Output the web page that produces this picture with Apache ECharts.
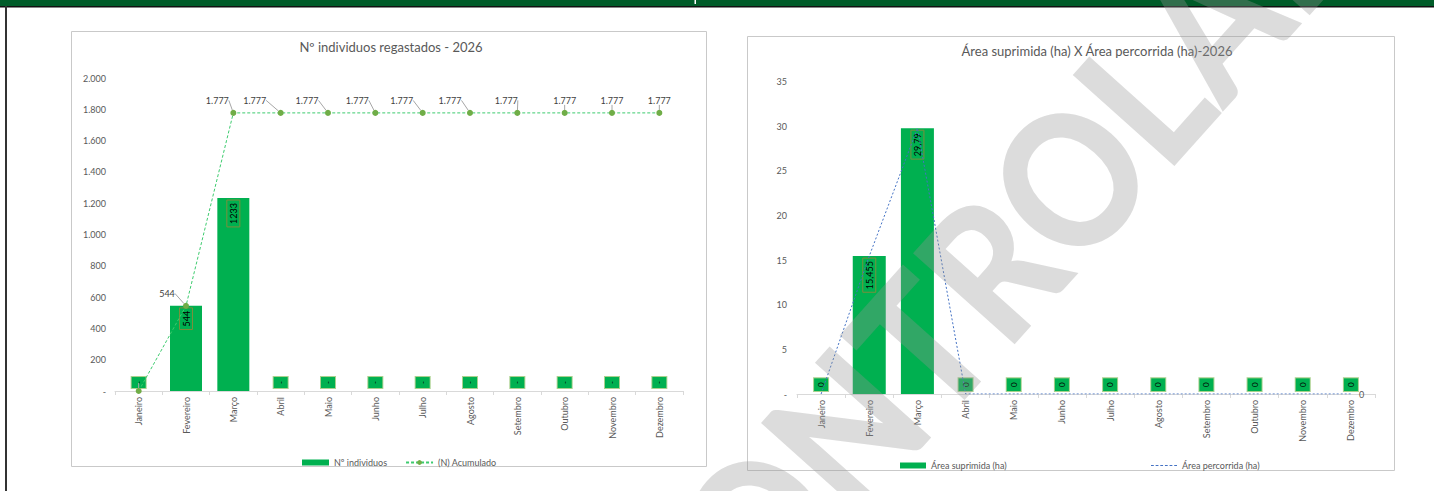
<!DOCTYPE html>
<html>
<head>
    <meta charset="utf-8">
    <title>Nº individuos / Área suprimida - 2026</title>
    <script src="https://cdn.jsdelivr.net/npm/echarts@6/dist/echarts.min.js"></script>
    <style>
        html, body { margin: 0; padding: 0; background: #fff; }
    </style>
</head>
<body>
<div id="main" style="width: 1434px;height:491px;"></div>
<script type="text/javascript">
// dados
var meses = ['Janeiro', 'Fevereiro', 'Março', 'Abril', 'Maio', 'Junho', 'Julho', 'Agosto', 'Setembro', 'Outubro', 'Novembro', 'Dezembro'];
var individuos = [0, 544, 1233, 0, 0, 0, 0, 0, 0, 0, 0, 0];
var acumulado = [0, 544, 1777, 1777, 1777, 1777, 1777, 1777, 1777, 1777, 1777, 1777];
var areaSuprimida = [0, 15.455, 29.79, 0, 0, 0, 0, 0, 0, 0, 0, 0];
var areaPercorrida = [0, 15.455, 29.79, 0, 0, 0, 0, 0, 0, 0, 0, 0];

var FONT = 'Lato';
var VERDE = '#00B050';
var CINZA = '#595959';

function milhar(v) {
    return String(v).replace(/\B(?=(\d{3})+(?!\d))/g, '.');
}

// deslocamento horizontal dos rótulos do acumulado (como no Excel)
var desloc = [0, -19, -16, -26, -21, -18, -21, -20, -11, 0, 0, 0];

// ícone tracejado da legenda (só a linha, sem marcador)
var TRACO = 'path://M0,0H3V1H0Z M5,0H8V1H5Z M10,0H13V1H10Z M15,0H18V1H15Z M20,0H23V1H20Z M25,0H28V1H25Z';

// rótulos das barras: valor zero vira caixinha verde acima do eixo
function barItems(vals, zeroTxt) {
    return vals.map(function (v) {
        if (v === 0) {
            return {
                value: v,
                label: {
                    show: true, position: 'top', distance: 3, rotate: 90,
                    align: 'left', verticalAlign: 'middle',
                    formatter: zeroTxt, fontSize: 8, lineHeight: 10, color: '#000',
                    backgroundColor: VERDE, borderColor: '#A9D18E', borderWidth: 1,
                    padding: [2, 4, 2, 4]
                }
            };
        }
        return {
            value: v,
            label: {
                show: true, position: 'insideTop', distance: 2, rotate: 90,
                align: 'right', verticalAlign: 'middle',
                formatter: String(v).replace('.', ','), fontSize: 9, lineHeight: 11, color: '#000',
                borderColor: '#7A8F3C', borderWidth: 1, padding: [1, 3, 1, 3]
            }
        };
    });
}

var xBase = {
    type: 'category',
    data: meses,
    axisLine: { lineStyle: { color: '#d9d9d9' } },
    axisTick: { show: true, interval: 0, length: 4, lineStyle: { color: '#d9d9d9' } },
    axisLabel: { rotate: 90, margin: 6, interval: 0, fontSize: 9, color: CINZA, fontFamily: FONT }
};

var myChart = echarts.init(document.getElementById('main'), null, { renderer: 'svg' });

var option = {
    backgroundColor: '#fff',
    textStyle: { fontFamily: FONT },
    animation: false,
    graphic: [
        { type: 'rect', shape: { x: 0, y: 0, width: 1434, height: 6 }, style: { fill: '#005C29' }, z: 10 },
        { type: 'rect', shape: { x: 0, y: 6, width: 1434, height: 1.5 }, style: { fill: '#111' }, z: 10 },
        { type: 'rect', shape: { x: 694.5, y: 0, width: 1.5, height: 4 }, style: { fill: '#fff' }, z: 11 },
        { type: 'rect', shape: { x: 5, y: 6, width: 2, height: 485 }, style: { fill: '#333' }, z: 10 },
        { type: 'rect', shape: { x: 71.5, y: 31.5, width: 635, height: 435 }, style: { fill: 'none', stroke: '#c9c9c9', lineWidth: 1 }, z: 1 },
        { type: 'rect', shape: { x: 747.5, y: 36.5, width: 647, height: 434 }, style: { fill: 'none', stroke: '#c9c9c9', lineWidth: 1 }, z: 1 },
        {
            // marca d'água
            type: 'text', x: 1030, y: 218, rotation: 0.84, scaleX: 0.88, z: 100, silent: true,
            style: {
                text: 'CONTROLADO', fill: 'rgba(150,150,150,0.33)',
                font: '900 188px Lato', textAlign: 'center', textVerticalAlign: 'middle'
            }
        }
    ],
    title: [
        { text: 'Nº individuos regastados - 2026', left: 386, top: 35, textAlign: 'center',
          textStyle: { fontSize: 13, fontWeight: 'normal', color: CINZA, fontFamily: FONT } },
        { text: 'Área suprimida (ha) X Área percorrida (ha)-2026', left: 1092, top: 39, textAlign: 'center',
          textStyle: { fontSize: 13, fontWeight: 'normal', color: CINZA, fontFamily: FONT } }
    ],
    legend: [
        { left: 297, top: 453, itemGap: 18, itemWidth: 27, itemHeight: 6,
          textStyle: { fontSize: 9, color: CINZA, fontFamily: FONT },
          data: [{ name: 'Nº individuos', icon: 'rect' }, { name: '(N) Acumulado' }] },
        { left: 895, top: 456, itemWidth: 26, itemHeight: 6,
          textStyle: { fontSize: 9, color: CINZA, fontFamily: FONT },
          data: [{ name: 'Área suprimida (ha)', icon: 'rect' }] },
        { left: 1146, top: 456, itemWidth: 26, itemHeight: 1,
          textStyle: { fontSize: 9, color: CINZA, fontFamily: FONT },
          data: [{ name: 'Área percorrida (ha)', icon: TRACO }] }
    ],
    grid: [
        { left: 115, top: 78, width: 568, height: 313 },
        { left: 797, top: 81.7, width: 578, height: 312.3 }
    ],
    xAxis: [
        Object.assign({ gridIndex: 0 }, xBase),
        Object.assign({ gridIndex: 1 }, xBase)
    ],
    yAxis: [
        { gridIndex: 0, type: 'value', min: 0, max: 2000, interval: 200,
          axisLine: { show: false }, axisTick: { show: false }, splitLine: { show: false },
          axisLabel: { margin: 9, fontSize: 9, color: CINZA, fontFamily: FONT,
                       formatter: function (v) { return v === 0 ? '-' : milhar(v); } } },
        { gridIndex: 1, type: 'value', min: 0, max: 35, interval: 5,
          axisLine: { show: false }, axisTick: { show: false }, splitLine: { show: false },
          axisLabel: { margin: 10, fontSize: 9, color: CINZA, fontFamily: FONT,
                       formatter: function (v) { return v === 0 ? '-' : v; } } }
    ],
    series: [
        {
            name: 'Nº individuos', type: 'bar', xAxisIndex: 0, yAxisIndex: 0,
            barWidth: 32, itemStyle: { color: VERDE },
            data: barItems(individuos, '-')
        },
        {
            name: '(N) Acumulado', type: 'line', xAxisIndex: 0, yAxisIndex: 0,
            symbol: 'circle', symbolSize: 6,
            itemStyle: { color: '#70AD47' },
            lineStyle: { color: '#3DCB6E', width: 1, type: [3, 2] },
            label: {
                show: true, position: 'top', distance: 5, fontSize: 9, color: '#404040', fontFamily: FONT,
                formatter: function (p) { return p.value === 0 ? '' : milhar(p.value); }
            },
            labelLine: { show: true, lineStyle: { color: '#a6a6a6', width: 1 } },
            labelLayout: function (p) { return { dx: desloc[p.dataIndex] }; },
            data: acumulado,
            z: 5
        },
        {
            name: 'Área suprimida (ha)', type: 'bar', xAxisIndex: 1, yAxisIndex: 1,
            barWidth: 33, itemStyle: { color: VERDE },
            data: barItems(areaSuprimida, '0')
        },
        {
            name: 'Área percorrida (ha)', type: 'line', xAxisIndex: 1, yAxisIndex: 1,
            symbol: 'none',
            itemStyle: { color: '#4472C4' },
            lineStyle: { color: '#4472C4', width: 1, type: [2, 2] },
            endLabel: { show: true, distance: 8, fontSize: 9, color: CINZA, fontFamily: FONT,
                        formatter: function (p) { return String(p.value).replace('.', ','); } },
            data: areaPercorrida,
            z: 5
        }
    ]
};

myChart.setOption(option);
</script>
</body>
</html>
